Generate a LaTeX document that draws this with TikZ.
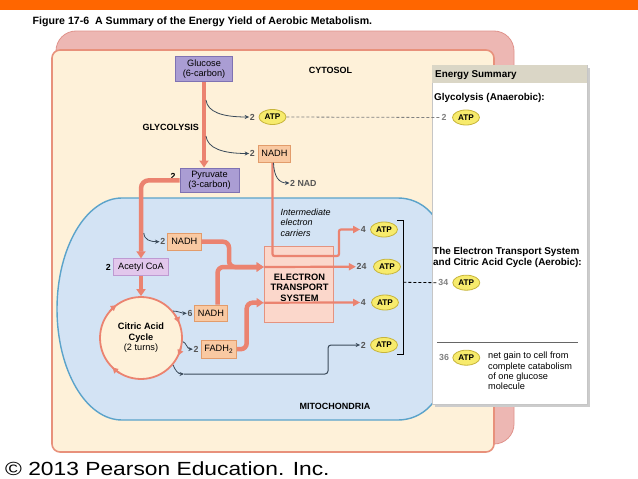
\documentclass[tikz,border=0pt]{standalone}
\usepackage{fontspec}
\setmainfont{Liberation Sans}
\newfontfamily\cprfam[FakeStretch=1.2]{Liberation Sans}
\usetikzlibrary{arrows.meta,calc,shapes.geometric}
\definecolor{orangebar}{HTML}{FF6600}
\definecolor{pinkback}{HTML}{EDB7B3}
\definecolor{pinkline}{HTML}{E0938C}
\definecolor{cream}{HTML}{FEF1D9}
\definecolor{creamline}{HTML}{E8917B}
\definecolor{mito}{HTML}{D3E3F4}
\definecolor{mitoline}{HTML}{5BA3CA}
\definecolor{salmon}{HTML}{EB8370}
\definecolor{purplebox}{HTML}{AA9DD3}
\definecolor{purpleline}{HTML}{7F72B3}
\definecolor{lilac}{HTML}{E2C7EC}
\definecolor{lilacline}{HTML}{BE9AD2}
\definecolor{peach}{HTML}{F9C9A2}
\definecolor{peachline}{HTML}{E29C6B}
\definecolor{etsfill}{HTML}{FBD7CB}
\definecolor{etsline}{HTML}{E5937F}
\definecolor{atpfill}{HTML}{F7EB6C}
\definecolor{atpline}{HTML}{C7B43A}
\definecolor{darkarrow}{HTML}{3A4A5A}
\definecolor{numgray}{HTML}{555555}
\definecolor{headerc}{HTML}{DAD6C6}
\newcommand\lblf{\fontsize{9.2}{10.6}\selectfont}
\newcommand\blbf{\fontsize{9}{10.4}\selectfont\bfseries}
\newcommand\atpf{\fontsize{8.2}{9}\selectfont\bfseries}
\newcommand\numf{\fontsize{8.8}{10}\selectfont\bfseries}
\newcommand\sumf{\fontsize{9.9}{10.7}\selectfont\bfseries}
\newcommand\ttlf{\fontsize{10.6}{12}\selectfont\bfseries}
\newcommand\cprf{\fontsize{19}{23}\selectfont\cprfam}
\tikzset{
  pbox/.style={draw=purpleline, fill=purplebox, line width=0.8, inner sep=0, align=center, font=\lblf},
  lbox/.style={draw=lilacline, fill=lilac, line width=0.8, inner sep=0, font=\lblf},
  nbox/.style={draw=peachline, fill=peach, line width=0.8, inner sep=0, font=\lblf},
  atp/.style={ellipse, draw=atpline, fill=atpfill, line width=0.8, inner sep=0, minimum width=27, minimum height=15, font=\atpf},
  num/.style={font=\numf, text=numgray, inner sep=0.5},
  fat/.style={salmon, line width=4.5, -{Triangle[length=7pt,width=9pt]}},
  sthin/.style={salmon, line width=2.2, -{Triangle[length=7pt,width=7pt]}},
  dk/.style={darkarrow, line width=0.8, -{Stealth[length=4.5pt,width=4pt]}},
  cyc/.style={salmon, line width=1.8, -{Triangle[length=5.5pt,width=6pt]}},
}
\begin{document}
\begin{tikzpicture}[x=1pt,y=-1pt]
\useasboundingbox (0,0) rectangle (638,479);
\fill[white] (0,0) rectangle (638,479);
\fill[orangebar] (0,0) rectangle (638,10);
\node[anchor=base west, font=\ttlf, inner sep=0] (title) at (32.5,24) {Figure 17-6\ \ A Summary of the Energy Yield of Aerobic Metabolism.};

% cell
\draw[pinkline, fill=pinkback, line width=0.8, rounded corners=20] (56,31) rectangle (514,444);
\draw[creamline, fill=cream, line width=1.6, rounded corners=8] (52,50) rectangle (494,452);
% mitochondrion
\draw[mitoline, fill=mito, line width=1.4] (122,198) -- (398,198) arc[start angle=-90, end angle=0, radius=44]
  -- (442,376) arc[start angle=0, end angle=90, radius=44] -- (122,420)
  arc[start angle=90, end angle=270, x radius=65, y radius=111] -- cycle;

% summary panel
\fill[gray!40] (434.5,67.5) rectangle (589.5,406.5);
\draw[gray!45, fill=white, line width=0.6] (432,65) rectangle (587,404);
\fill[headerc] (432.4,65.4) rectangle (586.6,83);
\node[anchor=west, font=\sumf, inner sep=0] (esum) at (435,75) {Energy Summary};
\node[anchor=west, font=\sumf, inner sep=0] (glyan) at (434,98) {Glycolysis (Anaerobic):};
\node[num, text=gray] (s2) at (444,117.5) {2};
\node[atp] (satp1) at (466,117.5) {ATP};
\node[anchor=west, font=\sumf, align=left, inner sep=0] (etsum) at (433,257.5) {The Electron Transport System\\and Citric Acid Cycle (Aerobic):};
\node[num, text=gray] (s34) at (443.3,282.7) {34};
\node[atp] (satp2) at (466.3,282.7) {ATP};
\draw[gray!80!black, line width=0.8] (437,342.3) -- (578.3,342.3);
\node[num, text=gray] (s36) at (444,357.7) {36};
\node[atp] (satp3) at (466.3,357.7) {ATP};
\node[anchor=north west, font=\fontsize{9.2}{10.3}\selectfont, align=left, inner sep=0] (netg) at (488,352) {net gain to cell from\\complete catabolism\\of one glucose\\molecule};

% labels
\node[font=\blbf] (cyt) at (330.5,70) {CYTOSOL};
\node[font=\blbf] (gly) at (170.7,127) {GLYCOLYSIS};
\node[font=\blbf] (mitl) at (335,406) {MITOCHONDRIA};
\node[anchor=west, font=\fontsize{9}{10.6}\selectfont\itshape, align=left, inner sep=0] (inter) at (280.5,222.7) {Intermediate\\electron\\carriers};

% boxes
\node[pbox, minimum width=56.6, minimum height=25] (glucose) at (204,69.2) {Glucose\\(6-carbon)};
\node[pbox, minimum width=59, minimum height=24.7] (pyruvate) at (209.5,180.3) {Pyruvate\\(3-carbon)};
\node[num, text=black] (npyr) at (173,176) {2};
\node[num] (n2atp) at (252.3,117) {2};
\node[atp] (atpg) at (272.5,117) {ATP};
\node[num] (n2nadh) at (252.3,153.5) {2};
\node[nbox, minimum width=32.4, minimum height=17.3] (nadhg) at (274.5,153.7) {NADH};
\node[num, anchor=west] (nad) at (289.5,183) {2 NAD};
\node[nbox, minimum width=33.3, minimum height=16.7] (nadh2) at (184.3,241.7) {NADH};
\node[num] (n2b) at (162.7,241.7) {2};
\node[lbox, minimum width=55, minimum height=16.6] (acetyl) at (141,267) {Acetyl CoA};
\node[num, text=black] (n2c) at (108.3,267) {2};
\node[circle, draw=salmon, fill=cream, line width=1.8, minimum size=82, inner sep=0, align=center, font=\lblf] (circ) at (141,338) {\textbf{Citric Acid}\\\textbf{Cycle}\\(2 turns)};
\node[nbox, minimum width=33.3, minimum height=16.7] (nadh6) at (211,313.3) {NADH};
\node[num] (n6) at (190,313.3) {6};
\node[nbox, minimum width=35.7, minimum height=18.3] (fadh) at (218.8,349.2) {FADH\textsubscript{2}};
\node[num] (n2f) at (196,349.2) {2};
\node[draw=etsline, fill=etsfill, line width=0.8, minimum width=69.3, minimum height=76.7, inner sep=0] (ets) at (298.7,284.3) {};
\node[font=\fontsize{9.3}{10.4}\selectfont\bfseries, align=center, inner sep=0] (etstext) at (299.5,287.6) {ELECTRON\\TRANSPORT\\SYSTEM};

% right ATPs
\node[num] (n4a) at (363.3,229.5) {4};
\node[atp] (atp4a) at (384,229.5) {ATP};
\node[num] (n24) at (361.5,266.7) {24};
\node[atp] (atp24) at (387,266.7) {ATP};
\node[num] (n4b) at (363.3,302.5) {4};
\node[atp] (atp4b) at (385,302.5) {ATP};
\node[num] (n2d) at (363.3,345) {2};
\node[atp] (atp2d) at (384,345) {ATP};

% coordinates
\coordinate (g1) at (206,100);
\coordinate (g2) at (206,136);
\coordinate (p1) at (143.8,233);
\coordinate (etsin1) at (ets.west |- 0,267);
\coordinate (etsin2) at (ets.west |- 0,302.7);
\coordinate (lstart) at (184,374);
\coordinate (br) at (403.3,282.3);

% thick pathway
\draw[fat] (glucose.south) -- (glucose.south |- pyruvate.north);
\draw[fat, rounded corners=8] (pyruvate.west) -| (acetyl.north);
\draw[fat] (acetyl.south) -- (circ.north);
\draw[fat, rounded corners=6] (nadh2.east) -- (229,241.7) -- (229,267) -- (etsin1);
\draw[fat, rounded corners=6] ([xshift=6.5]nadh6.north) |- (etsin1);
\draw[fat, rounded corners=6] (fadh.east) -- (246.7,349.2) |- (etsin2);
\draw[sthin] (etsin1) -- (n24.west);
\draw[sthin] (etsin2) -- (n4b.west);
\draw[sthin, rounded corners=2] ([xshift=-2]nadhg.south) |- (339,256) |- (n4a.west);

% cycle arrows
\draw[cyc] (141,338) ++(-139:41) arc[start angle=-139, end angle=-127, radius=41];
\draw[cyc] (141,338) ++(-34:41) arc[start angle=-34, end angle=-22, radius=41];
\draw[cyc] (141,338) ++(13:41) arc[start angle=13, end angle=25, radius=41];
\draw[cyc] (141,338) ++(122:41) arc[start angle=122, end angle=134, radius=41];

% thin dark arrows
\draw[dk] (g1) .. controls (207.5,112) and (222,117) .. (n2atp.west);
\draw[dk] (g2) .. controls (207.5,148) and (222,153.5) .. (n2nadh.west);
\draw[dk] ([xshift=-1]nadhg.south) .. controls (274,177) and (279,183) .. (nad.west);
\draw[dk] (p1) .. controls (144.5,240) and (150,241.7) .. (n2b.west);
\draw[dk] (circ.40) .. controls (178,311) and (182,313.3) .. (n6.west);
\draw[dk] (circ.-5) .. controls (186,342) and (187,349) .. (n2f.west);
\draw[dk] (circ.-40) .. controls (175,370) and (178,374) .. (lstart);
\draw[darkarrow, line width=1, rounded corners=3, -{Stealth[length=4.5pt,width=4pt]}] (lstart) -| (328,345) -- (n2d.west);

% bracket and dashed links
\draw[black, line width=1] (397.3,220.7) -- (403.3,220.7) -- (403.3,354) -- (397.3,354);
\draw[black, line width=0.8, dash pattern=on 3pt off 2pt] (br) -- (s34.west);
\draw[gray, line width=0.8, dash pattern=on 3pt off 2pt] (atpg.east) -- (s2.west);

% copyright
\node[anchor=base west, font=\cprf, inner sep=0] (copy) at (5,475.5) {© 2013 Pearson Education. Inc.};
\end{tikzpicture}
\end{document}
